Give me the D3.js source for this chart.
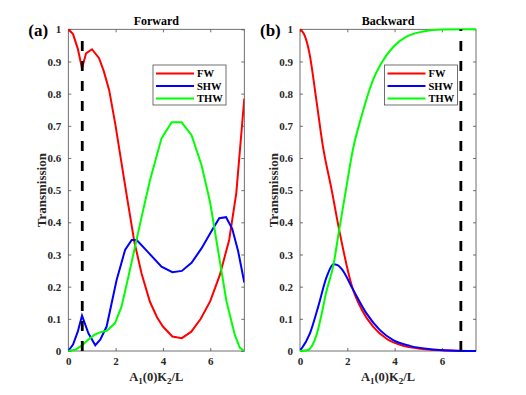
<!DOCTYPE html>
<meta charset="utf-8">
<style>
    body { margin: 0; background: #fff; }
    text { font-family: "Liberation Serif", "Times New Roman", serif; font-weight: bold; }
</style>
<body>
<svg width="526" height="395"></svg>
<script src="https://d3js.org/d3.v7.min.js"></script>
<script>
    // Forward panel (a)
    var fwA_x  = [0, 0.2, 0.4, 0.58, 0.75, 1.0, 1.3, 1.5, 1.73, 2.0, 2.15, 2.5, 2.79, 3.1, 3.45, 3.75, 4.0, 4.4, 4.8, 5.2, 5.6, 6.0, 6.4, 6.8, 7.1, 7.44];
    var fwA_y  = [1.0, 0.985, 0.94, 0.879, 0.925, 0.938, 0.91, 0.87, 0.81, 0.7, 0.63, 0.47, 0.34, 0.24, 0.153, 0.105, 0.076, 0.045, 0.04, 0.06, 0.10, 0.155, 0.235, 0.345, 0.49, 0.785];
    var shwA_x = [0, 0.2, 0.4, 0.58, 0.85, 1.14, 1.35, 1.62, 2.04, 2.4, 2.68, 2.89, 3.4, 3.94, 4.4, 4.8, 5.21, 5.63, 6.0, 6.38, 6.67, 6.93, 7.18, 7.44];
    var shwA_y = [0, 0.02, 0.06, 0.11, 0.055, 0.018, 0.035, 0.076, 0.22, 0.314, 0.345, 0.345, 0.305, 0.262, 0.245, 0.249, 0.274, 0.319, 0.366, 0.413, 0.416, 0.38, 0.31, 0.213];
    var thwA_x = [0, 0.3, 0.59, 0.85, 1.1, 1.34, 1.62, 1.97, 2.25, 2.54, 2.82, 3.1, 3.45, 3.94, 4.37, 4.79, 5.21, 5.63, 5.99, 6.34, 6.69, 7.04, 7.25, 7.44];
    var thwA_y = [0, 0.004, 0.018, 0.036, 0.05, 0.058, 0.063, 0.086, 0.138, 0.231, 0.324, 0.417, 0.53, 0.661, 0.711, 0.711, 0.671, 0.578, 0.464, 0.309, 0.153, 0.05, 0.01, 0.0];

    // Backward panel (b)
    var fwB_x  = [0, 0.2, 0.4, 0.68, 0.96, 1.34, 1.66, 2.2, 2.6, 3.1, 3.66, 4.36, 5.0, 5.4, 6.0, 6.6, 7.44];
    var fwB_y  = [1.0, 0.98, 0.925, 0.786, 0.64, 0.5, 0.375, 0.2, 0.13, 0.075, 0.038, 0.016, 0.008, 0.005, 0.002, 0.001, 0.0];
    var shwB_x = [0, 0.42, 0.77, 1.13, 1.41, 1.59, 1.76, 2.25, 2.81, 3.38, 3.94, 4.64, 5.63, 6.5, 7.44];
    var shwB_y = [0, 0.055, 0.138, 0.231, 0.27, 0.267, 0.255, 0.19, 0.117, 0.065, 0.034, 0.016, 0.005, 0.001, 0.0];
    var thwB_x = [0, 0.3, 0.5, 0.7, 0.9, 1.1, 1.42, 1.63, 1.94, 2.22, 2.64, 3.07, 3.4, 3.94, 4.5, 5.2, 6.0, 7.44];
    var thwB_y = [0, 0.002, 0.015, 0.05, 0.11, 0.18, 0.27, 0.365, 0.5, 0.62, 0.74, 0.84, 0.89, 0.945, 0.977, 0.993, 0.999, 1.0];

    var xTicks = [0, 2, 4, 6];
    var yTicks = [0, 0.1, 0.2, 0.3, 0.4, 0.5, 0.6, 0.7, 0.8, 0.9, 1];
    var seriesNames = ["FW", "SHW", "THW"];
    var seriesColors = ["#ff0000", "#0000ff", "#00ff00"];

    var panels = [
        { tag: "(a)", title: "Forward", left: 68.3, dash: 0.59, dashTop: 0.97, curve: d3.curveLinear,
          lines: [[fwA_x, fwA_y], [shwA_x, shwA_y], [thwA_x, thwA_y]], legendX: 153 },
        { tag: "(b)", title: "Backward", left: 300, dash: 6.8, dashTop: 1.0, curve: d3.curveMonotoneX,
          lines: [[fwB_x, fwB_y], [shwB_x, shwB_y], [thwB_x, thwB_y]], legendX: 384.5 }
    ];

    var svg = d3.select("svg");
    var plotTop = 29.3, plotBottom = 351, pw = 176;
    var axisColor = "#4d4d4d";

    panels.forEach(function(p, pi) {
        var x = d3.scaleLinear().domain([0, 7.44]).range([p.left, p.left + pw]);
        var y = d3.scaleLinear().domain([0, 1]).range([plotBottom, plotTop]);
        var g = svg.append("g");

        g.append("clipPath").attr("id", "clip" + pi)
            .append("rect").attr("x", p.left).attr("y", plotTop - 2)
            .attr("width", pw).attr("height", plotBottom - plotTop + 4);

        // axes with inner ticks on all four sides
        var ax = g.append("g").attr("transform", "translate(0," + plotBottom + ")")
            .call(d3.axisBottom(x).tickValues(xTicks).tickSizeInner(-3).tickSizeOuter(0).tickPadding(6));
        var ay = g.append("g").attr("transform", "translate(" + p.left + ",0)")
            .call(d3.axisLeft(y).tickValues(yTicks).tickSizeInner(-3).tickSizeOuter(0).tickPadding(7)
                .tickFormat(function(d) { return d === 0 || d === 1 ? d : d3.format(".1f")(d); }));
        var axT = g.append("g").attr("transform", "translate(0," + plotTop + ")")
            .call(d3.axisTop(x).tickValues(xTicks).tickSizeInner(-3).tickSizeOuter(0).tickFormat(""));
        var ayR = g.append("g").attr("transform", "translate(" + (p.left + pw) + ",0)")
            .call(d3.axisRight(y).tickValues(yTicks).tickSizeInner(-3).tickSizeOuter(0).tickFormat(""));
        [ax, ay, axT, ayR].forEach(function(a) {
            a.select(".domain").remove();
            a.selectAll("line").attr("stroke", axisColor).attr("stroke-width", 0.8);
            a.selectAll("text").attr("fill", "#262626").attr("font-size", 11)
                .attr("font-family", "Liberation Serif").attr("font-weight", "bold");
        });
        g.append("rect").attr("x", p.left).attr("y", plotTop).attr("width", pw).attr("height", plotBottom - plotTop)
            .attr("fill", "none").attr("stroke", axisColor).attr("stroke-width", 0.8);

        // data lines
        var line = d3.line().curve(p.curve)
            .x(function(d) { return x(d[0]); }).y(function(d) { return y(d[1]); });
        p.lines.forEach(function(s, i) {
            var pts = s[0].map(function(v, k) { return [v, s[1][k]]; });
            g.append("path").datum(pts)
                .attr("d", line)
                .attr("clip-path", "url(#clip" + pi + ")")
                .attr("fill", "none")
                .attr("stroke", seriesColors[i])
                .attr("stroke-width", 2);
        });

        // dashed marker
        g.append("line")
            .attr("x1", x(p.dash)).attr("x2", x(p.dash))
            .attr("y1", y(0)).attr("y2", y(p.dashTop))
            .attr("stroke", "#000").attr("stroke-width", 2.8)
            .attr("stroke-dasharray", "10,10");

        // legend
        var lg = g.append("g").attr("transform", "translate(" + p.legendX + ",65)");
        lg.append("rect").attr("width", 73).attr("height", 40)
            .attr("fill", "#fff").attr("stroke", axisColor).attr("stroke-width", 0.8);
        seriesNames.forEach(function(n, i) {
            var yy = 8.5 + i * 12.5;
            lg.append("line").attr("x1", 3).attr("x2", 41).attr("y1", yy).attr("y2", yy)
                .attr("stroke", seriesColors[i]).attr("stroke-width", 2);
            lg.append("text").attr("x", 44).attr("y", yy + 3.8)
                .attr("font-size", 10.5).attr("fill", "#000").text(n);
        });

        // title, tag, labels
        var cx = p.left + pw / 2;
        g.append("text").attr("x", cx).attr("y", 25).attr("text-anchor", "middle")
            .attr("font-size", 12).attr("fill", "#000").text(p.title);
        g.append("text").attr("x", p.left - 40).attr("y", 36)
            .attr("font-size", 17).attr("fill", "#000").text(p.tag);
        g.append("text").attr("transform", "translate(" + (p.left - 22) + "," + ((plotTop + plotBottom) / 2) + ") rotate(-90)")
            .attr("text-anchor", "middle").attr("font-size", 13).attr("fill", "#262626").text("Transmission");

        var xl = g.append("text").attr("x", cx).attr("y", 381).attr("text-anchor", "middle")
            .attr("font-size", 12.5).attr("fill", "#262626");
        xl.append("tspan").text("A");
        xl.append("tspan").attr("dy", 3).attr("font-size", 9).text("1");
        xl.append("tspan").attr("dy", -3).text("(0)K");
        xl.append("tspan").attr("dy", 3).attr("font-size", 9).text("2");
        xl.append("tspan").attr("dy", -3).text("/L");
    });
</script>
</body>
